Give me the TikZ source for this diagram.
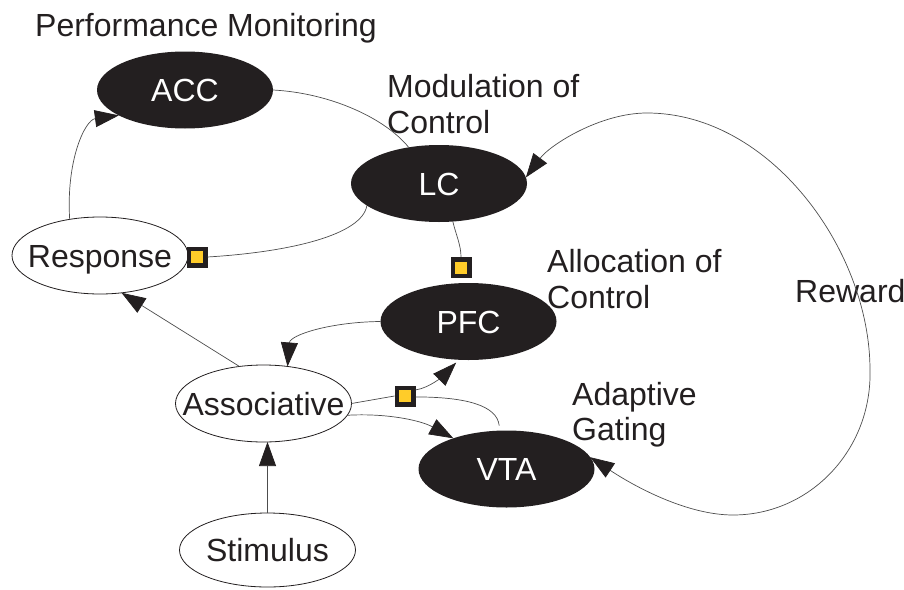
\documentclass[tikz,border=0pt]{standalone}
\usepackage{fontspec}
\setmainfont{Liberation Sans}
\usetikzlibrary{shapes.geometric,arrows.meta}
\definecolor{ink}{HTML}{231F20}
\definecolor{yel}{RGB}{255,204,41}
\definecolor{wire}{HTML}{4D4D4D}
\tikzset{
  base/.style={ellipse, minimum width=176pt, minimum height=77pt, inner xsep=-30pt, inner ysep=0pt,
    outer sep=0pt, text height=23pt, text depth=0pt, font=\fontsize{32}{36}\selectfont},
  darknode/.style={base, fill=ink, text=white},
  lightnode/.style={base, draw=ink, line width=0.8pt, fill=white, text=ink},
  sq/.style={rectangle, draw=ink, line width=4.5pt, fill=yel, minimum size=16.5pt, inner sep=0pt},
  lbl/.style={anchor=base west, inner sep=0pt, text=ink, font=\fontsize{32}{36}\selectfont},
  con/.style={draw=wire, line width=0.7pt},
  arr/.style={con, -{Triangle[length=24pt,width=17pt,color=ink]}},
  arrboth/.style={con, {Triangle[length=24pt,width=17pt,color=ink]}-{Triangle[length=24pt,width=17pt,color=ink]}}
}
\begin{document}
\begin{tikzpicture}[x=1pt,y=-1pt]
\useasboundingbox (0,0) rectangle (904,589);
% nodes
\node[darknode] (acc) at (185,90) {ACC};
\node[darknode] (lc) at (439,183.5) {LC};
\node[darknode] (pfc) at (468.5,321.5) {PFC};
\node[darknode] (vta) at (506.5,469) {VTA};
\node[lightnode] (resp) at (100,255.5) {Response};
\node[lightnode] (assoc) at (263.5,403.5) {Associative};
\node[lightnode, minimum height=74pt] (stim) at (267.5,550) {Stimulus};
\node[sq] (sq1) at (197,257) {};
\node[sq] (sq2) at (461,267.5) {};
\node[sq] (sq3) at (405,396) {};
% labels
\node[lbl] (t1) at (35,36) {Performance Monitoring};
\node[lbl] (t2) at (387,97) {Modulation of};
\node[lbl] (t3) at (387,133) {Control};
\node[lbl] (t4) at (547,272) {Allocation of};
\node[lbl] (t5) at (547,308) {Control};
\node[lbl] (t6) at (572,405) {Adaptive};
\node[lbl] (t7) at (572,440) {Gating};
\node[lbl] (t8) at (795,302) {Reward};
% connectors
\draw[arr] (resp.130) .. controls (66,160) and (85,120) .. (acc.201);
\draw[con] (acc.east) .. controls (330,93) and (385,118) .. (lc.130);
\draw[con] (lc.197) .. controls (362,235) and (290,252) .. (sq1.east);
\draw[con] (lc.290) .. controls (456,235) and (461,245) .. (sq2.north);
\draw[arr] (pfc.west) .. controls (330,322) and (290,335) .. (assoc.57);
\draw[arr] (assoc.123) -- (resp.300);
\draw[con] (assoc.east) -- (sq3.west);
\draw[arr, shorten >=4pt] (sq3.30) .. controls (430,388) and (445,374) .. (pfc.256);
\draw[con, shorten <=5pt] (vta.100) .. controls (497,405) and (465,397) .. (sq3.-5);
\draw[arr] (assoc.352) .. controls (385,413) and (420,420) .. (vta.150);
\draw[arr] (stim.north) -- (stim.north |- assoc.south);
\draw[arrboth] (vta.8) .. controls (640,490) and (690,515) .. (733,515)
  .. controls (810,515) and (872,450) .. (870,370)
  .. controls (870,250) and (770,113) .. (647,113)
  .. controls (600,113) and (550,145) .. (lc.4);
\end{tikzpicture}
\end{document}
